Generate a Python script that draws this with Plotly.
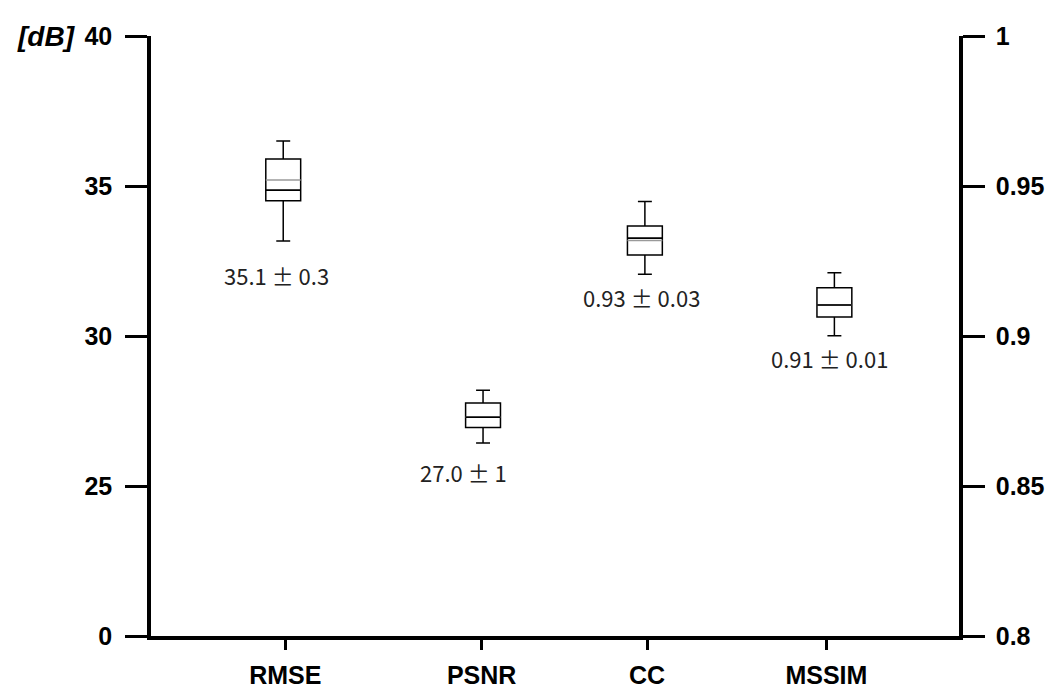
import plotly.graph_objects as go

# ---- data ----
metrics = ["RMSE", "PSNR", "CC", "MSSIM"]
lower_whisker = [33.17, 26.43, 0.9206, 0.9001]
q1_vals = [34.51, 26.95, 0.9270, 0.9063]
median_vals = [34.86, 27.29, 0.9326, 0.9103]
q3_vals = [35.90, 27.77, 0.9367, 0.9161]
upper_whisker = [36.50, 28.19, 0.9448, 0.9211]
mean_vals = [35.20, 27.29, 0.9318, 0.9103]
stat_labels = ["35.1 \u00b1 0.3", "27.0 \u00b1 1", "0.93 \u00b1 0.03", "0.91 \u00b1 0.01"]
metric_axis = ["y", "y", "y2", "y2"]

left_tickvals = [20, 25, 30, 35, 40]
left_ticktext = ["0", "25", "30", "35", "40"]
right_tickvals = [0.8, 0.85, 0.9, 0.95, 1.0]
right_ticktext = ["0.8", "0.85", "0.9", "0.95", "1"]

# ---- layout constants ----
tick_pos = [1.675, 4.096, 6.135, 8.345]
box_pos = [1.650, 4.113, 6.108, 8.444]
box_w = 0.43
label_pos = [(1.564, 32.05), (3.867, 25.47), (6.067, 31.30), (8.387, 29.27)]

fig = go.Figure()

for i, m in enumerate(metrics):
    c = box_pos[i]
    fig.add_trace(go.Box(
        x=[c], q1=[q1_vals[i]], median=[median_vals[i]], q3=[q3_vals[i]],
        lowerfence=[lower_whisker[i]], upperfence=[upper_whisker[i]],
        width=box_w, whiskerwidth=0.4, boxpoints=False,
        fillcolor="rgba(0,0,0,0)", line=dict(color="black", width=1.5),
        yaxis=metric_axis[i], showlegend=False, name=m))
    fig.add_trace(go.Scatter(
        x=[c - box_w / 2, c + box_w / 2], y=[mean_vals[i], mean_vals[i]],
        mode="lines", line=dict(color="#9a9a9a", width=1.5),
        yaxis=metric_axis[i], showlegend=False, hoverinfo="skip"))
    fig.add_trace(go.Scatter(
        x=[c - box_w / 2, c + box_w / 2], y=[median_vals[i], median_vals[i]],
        mode="lines", line=dict(color="black", width=1.5),
        yaxis=metric_axis[i], showlegend=False, hoverinfo="skip"))

for i, (lx, ly) in enumerate(label_pos):
    fig.add_annotation(x=lx, y=ly, xref="x", yref="y", text=stat_labels[i],
                       showarrow=False, xanchor="center", yanchor="middle",
                       font=dict(family="Noto Sans CJK KR", size=22, color="#222"))

fig.add_annotation(xref="paper", yref="paper", x=(46 - 151) / 808, y=1.0,
                   text="<b><i>[dB]</i></b>", showarrow=False,
                   xanchor="center", yanchor="middle",
                   font=dict(family="Liberation Sans", size=28, color="black"))

tickfont = dict(family="Liberation Sans", size=25, color="black")
common = dict(showline=True, linecolor="black", linewidth=3.5, ticks="outside",
              tickwidth=3, tickcolor="black", showgrid=False, zeroline=False,
              tickfont=tickfont, automargin=False)

# page body adds an 8px offset, so the figure is 8px smaller with margins shifted
fig.update_layout(
    width=1049, height=682,
    margin=dict(l=143, r=98, t=28, b=54),
    paper_bgcolor="white", plot_bgcolor="white",
    showlegend=False,
    xaxis=dict(range=[0.02, 9.98], tickvals=tick_pos, ticktext=["<b>%s</b>" % m for m in metrics],
               ticklen=10, ticklabelstandoff=4, **common),
    yaxis=dict(range=[20, 40], tickvals=left_tickvals, ticktext=["<b>%s</b>" % t for t in left_ticktext],
               ticklen=22, ticklabelstandoff=8, **common),
    yaxis2=dict(range=[0.8, 1.0], tickvals=right_tickvals, ticktext=["<b>%s</b>" % t for t in right_ticktext],
                overlaying="y", side="right", anchor="x",
                ticklen=22, ticklabelstandoff=6, **common),
)

fig.write_html("out.html")
